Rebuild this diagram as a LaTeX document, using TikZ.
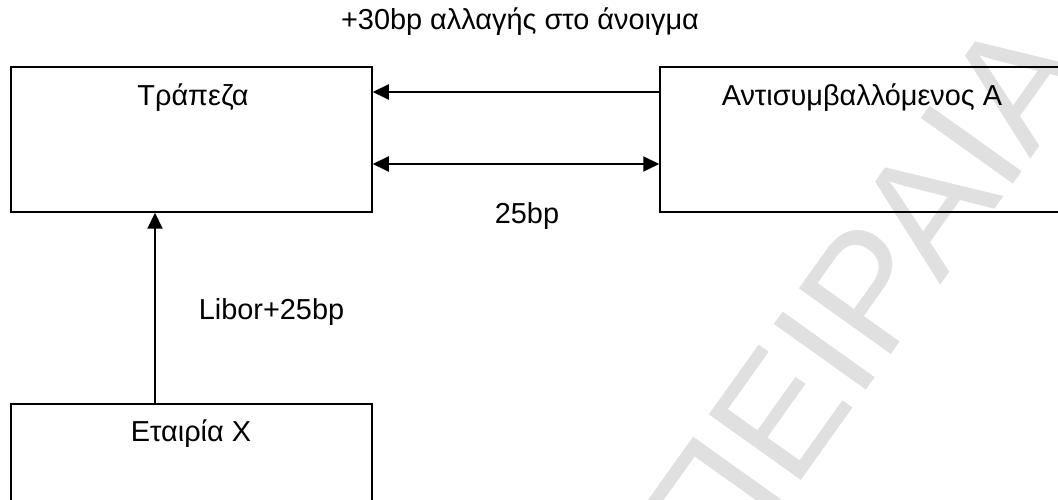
\documentclass[tikz,border=0pt]{standalone}
\usepackage{fontspec}
\setmainfont{Liberation Sans}
\usetikzlibrary{arrows.meta}
\definecolor{wmgray}{RGB}{224,224,224}
\begin{document}
\begin{tikzpicture}[x=1bp,y=1bp,
  box/.style={draw=black, line width=1.5bp, rectangle, inner sep=0pt},
  lbl/.style={font=\fontsize{29}{33}\selectfont, inner sep=0pt, anchor=base},
  arr/.style={line width=2bp, -{Triangle[length=16bp,width=15bp]}},
  dbl/.style={line width=2bp, {Triangle[length=16bp,width=15bp]}-{Triangle[length=16bp,width=15bp]}},
]
\useasboundingbox (0,0) rectangle (1058,500);
\clip (0,0) rectangle (1058,500);
\node[font=\fontsize{165}{165}\selectfont, text=wmgray, rotate=54.5, anchor=base west, inner sep=0pt] (wm) at (724.7,-88.3) {ΠΕΙΡΑΙΑ};

\node[box, minimum width=361bp, minimum height=145bp] (bank) at (191.5,360.5) {};
\node[box, minimum width=415bp, minimum height=145bp] (cp) at (867.5,360.5) {};
\node[box, minimum width=361bp, minimum height=156bp] (firm) at (191.5,18) {};

\node[lbl] (title) at (520,470) {+30bp αλλαγής στο άνοιγμα};
\node[lbl] (tbank) at (193,394) {Τράπεζα};
\node[lbl] (tcp) at (862,394) {Αντισυμβαλλόμενος Α};
\node[lbl] (tfirm) at (191,58) {Εταιρία X};
\node[lbl] (t25) at (527,276) {25bp};
\node[lbl] (tlib) at (271.5,180) {Libor+25bp};

\draw[arr] ([yshift=47.5bp]cp.west) -- ([yshift=47.5bp]bank.east);
\draw[dbl] ([yshift=-24.5bp]bank.east) -- ([yshift=-24.5bp]cp.west);
\draw[arr] ([xshift=-36.5bp]firm.north) -- ([xshift=-36.5bp]bank.south);
\end{tikzpicture}
\end{document}
